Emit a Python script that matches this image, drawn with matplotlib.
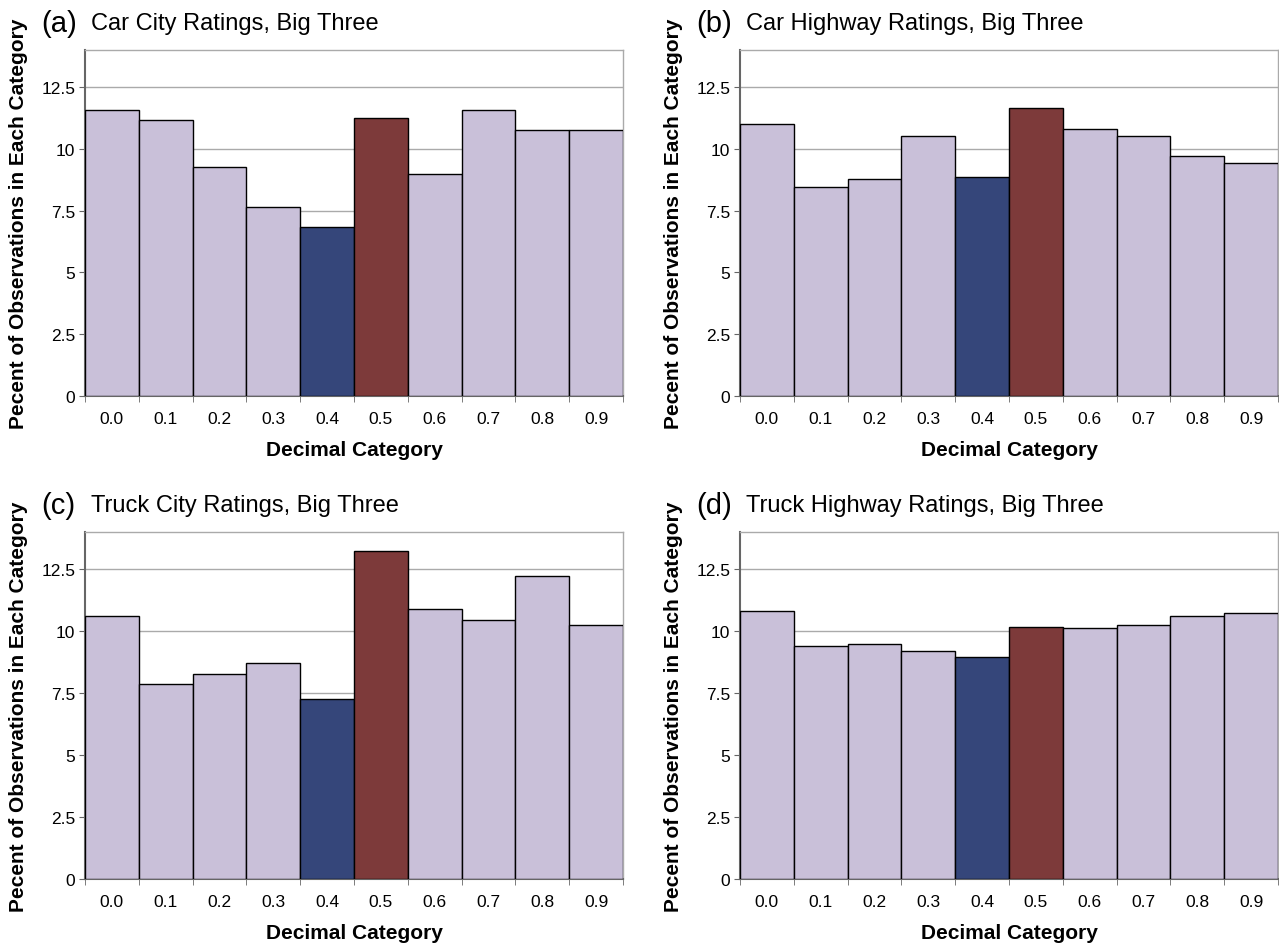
import matplotlib
matplotlib.use("Agg")
import matplotlib.pyplot as plt
import numpy as np

plt.rcParams['font.family'] = ['Liberation Sans', 'DejaVu Sans']

categories = ["0.0", "0.1", "0.2", "0.3", "0.4", "0.5", "0.6", "0.7", "0.8", "0.9"]
car_city = [11.59, 11.15, 9.25, 7.63, 6.85, 11.25, 8.97, 11.59, 10.76, 10.76]
car_highway = [11.02, 8.46, 8.78, 10.53, 8.85, 11.64, 10.81, 10.51, 9.70, 9.42]
truck_city = [10.60, 7.85, 8.29, 8.72, 7.28, 13.24, 10.90, 10.44, 12.24, 10.23]
truck_highway = [10.82, 9.42, 9.48, 9.21, 8.94, 10.15, 10.13, 10.26, 10.63, 10.75]
yticks = [0, 2.5, 5, 7.5, 10, 12.5]
ytick_labels = ["0", "2.5", "5", "7.5", "10", "12.5"]

panels = [
    ("(a)", "Car City Ratings, Big Three", car_city),
    ("(b)", "Car Highway Ratings, Big Three", car_highway),
    ("(c)", "Truck City Ratings, Big Three", truck_city),
    ("(d)", "Truck Highway Ratings, Big Three", truck_highway),
]

W, H = 1279, 945
fig = plt.figure(figsize=(W / 100, H / 100), dpi=100)

boxes = [(85, 623, 51, 397), (740, 1278, 51, 397), (85, 623, 533, 880), (740, 1278, 533, 880)]
label_x = [19, 673, 19, 673]

lav = "#C9C0D9"
blue = "#35467A"
maroon = "#7D3A3A"

for i, ((letter, title, vals), (l, r, t, b)) in enumerate(zip(panels, boxes)):
    ax = fig.add_axes([l / W, 1 - b / H, (r - l) / W, (b - t) / H])
    x = np.arange(len(categories))
    colors = [lav] * len(categories)
    colors[4] = blue
    colors[5] = maroon
    ax.bar(x, vals, width=1.0, color=colors, edgecolor="black", linewidth=1.0, zorder=3)
    ax.set_xlim(-0.5, len(categories) - 0.5)
    ax.set_ylim(0, 14)
    ax.set_yticks(yticks)
    ax.set_yticklabels(ytick_labels, fontsize=12.5)
    ax.yaxis.grid(True, color="#AAAAAA", linewidth=1.0, zorder=0)
    ax.set_axisbelow(True)
    ax.set_xticks(x)
    ax.set_xticklabels(categories, fontsize=12.5)
    ax.set_xticks(np.arange(-0.5, len(categories), 1.0), minor=True)
    ax.tick_params(axis="x", which="major", length=0, pad=11)
    ax.tick_params(axis="x", which="minor", length=4, color="#666666", direction="out")
    ax.tick_params(axis="y", length=4, color="#666666", direction="out", pad=3)
    for s in ["top", "right"]:
        ax.spines[s].set_color("#AAAAAA")
        ax.spines[s].set_linewidth(1.0)
    for s in ["left", "bottom"]:
        ax.spines[s].set_color("#666666")
        ax.spines[s].set_linewidth(1.5)
    ax.set_xlabel("Decimal Category", fontsize=15, fontweight="bold", labelpad=10)
    cy = (t + b) / 2
    fig.text(label_x[i] / W, 1 - cy / H, "Pecent of Observations in Each Category",
             rotation=90, fontsize=15, fontweight="bold", ha="center", va="center")
    ty = t - 27
    fig.text((l - 44) / W, 1 - ty / H, letter, fontsize=21, ha="left", va="center")
    fig.text((l + 6) / W, 1 - ty / H, title, fontsize=17, ha="left", va="center")

fig.savefig("out.png", dpi=100)
